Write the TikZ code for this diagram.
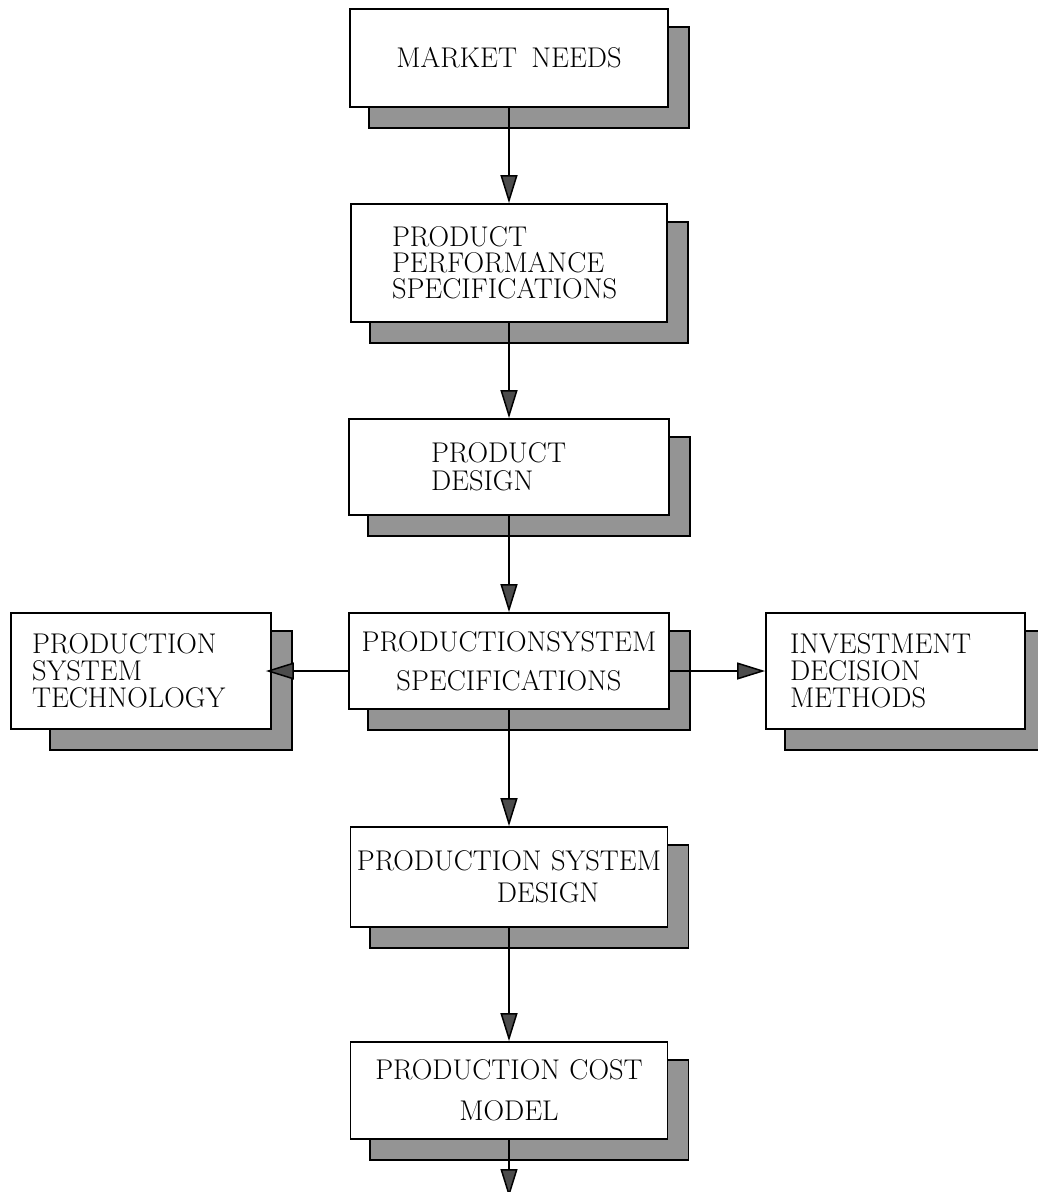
\documentclass[tikz,border=0pt]{standalone}
\usetikzlibrary{arrows.meta,calc,backgrounds}
\begin{document}
\begin{tikzpicture}[x=1pt,y=-1pt,
  box/.style={draw, line width=1.8pt, fill=white, inner ysep=0pt},
  shade box/.style={draw, line width=1.8pt, fill=black!42},
  link/.style={line width=1.5pt, -{Triangle[length=28pt,width=17pt,fill=black!70]}},
]
\clip (0,0) rectangle (1037,1192);

% main column
\node[box, minimum width=318pt, minimum height=98pt, align=center,
      font=\fontsize{28.5}{28}\selectfont] (mn) at (509,58) {\raisebox{-3pt}{MARKET\hspace{0.5em}NEEDS}};
\node[box, minimum width=316pt, minimum height=118pt, text width=234pt, inner xsep=41pt,
      align=left, font=\fontsize{28.5}{26}\selectfont] (pps) at (509,263)
      {PRODUCT\\PERFORMANCE\\SPECIFICATIONS};
\node[box, minimum width=320pt, minimum height=96pt, text width=156pt, inner xsep=82pt,
      align=left, font=\fontsize{28.5}{27.5}\selectfont] (pd) at (509,467)
      {PRODUCT\\DESIGN};
\node[box, minimum width=320pt, minimum height=96pt, text width=312pt, inner xsep=4pt,
      align=center, font=\fontsize{28.5}{39}\selectfont] (pss) at (509,661)
      {PRODUCTIONSYSTEM\\SPECIFICATIONS};
\node[box, minimum width=317pt, minimum height=100pt, text width=309pt, inner xsep=4pt,
      align=center, font=\fontsize{28.5}{32}\selectfont] (psd) at (509,877)
      {PRODUCTION SYSTEM\\\hspace*{78pt}DESIGN};
\node[box, minimum width=317pt, minimum height=97pt, text width=309pt, inner xsep=4pt,
      align=center, font=\fontsize{28.5}{41}\selectfont] (pcm) at (509,1090.5)
      {PRODUCTION COST\\MODEL\hspace*{50pt}};

% side boxes
\node[box, minimum width=260pt, minimum height=116pt, text width=218pt, inner xsep=21pt,
      align=left, font=\fontsize{28.5}{27}\selectfont] (pst) at (141,671)
      {PRODUCTION\\SYSTEM\\TECHNOLOGY};
\node[box, minimum width=259pt, minimum height=116pt, text width=211pt, inner xsep=24pt,
      align=left, font=\fontsize{28.5}{27}\selectfont] (inv) at (895.5,671)
      {INVESTMENT\\DECISION\\METHODS};

% drop shadows behind the boxes
\newcommand\boxshade[2][20]{%
  \draw[shade box] ($(#2.south west)+(#1,20)$) rectangle ($(#2.north east)+(20,19)$);}
\begin{scope}[on background layer]
  \boxshade{mn}
  \boxshade{pps}
  \boxshade{pd}
  \boxshade{pss}
  \boxshade{psd}
  \boxshade{pcm}
  \boxshade[40]{pst}
  \boxshade{inv}
\end{scope}

% connectors
\coordinate (out) at (509,1197);
\draw[link] (mn) -- (pps);
\draw[link] (pps) -- (pd);
\draw[link] (pd) -- (pss);
\draw[link] (pss) -- (psd);
\draw[link] (psd) -- (pcm);
\draw[link] (pcm) -- (out);
\draw[link, shorten >=-6pt] (pss.west |- pst.east) -- (pst.east);
\draw[link] (pss.east |- inv.west) -- (inv.west);
\end{tikzpicture}
\end{document}
